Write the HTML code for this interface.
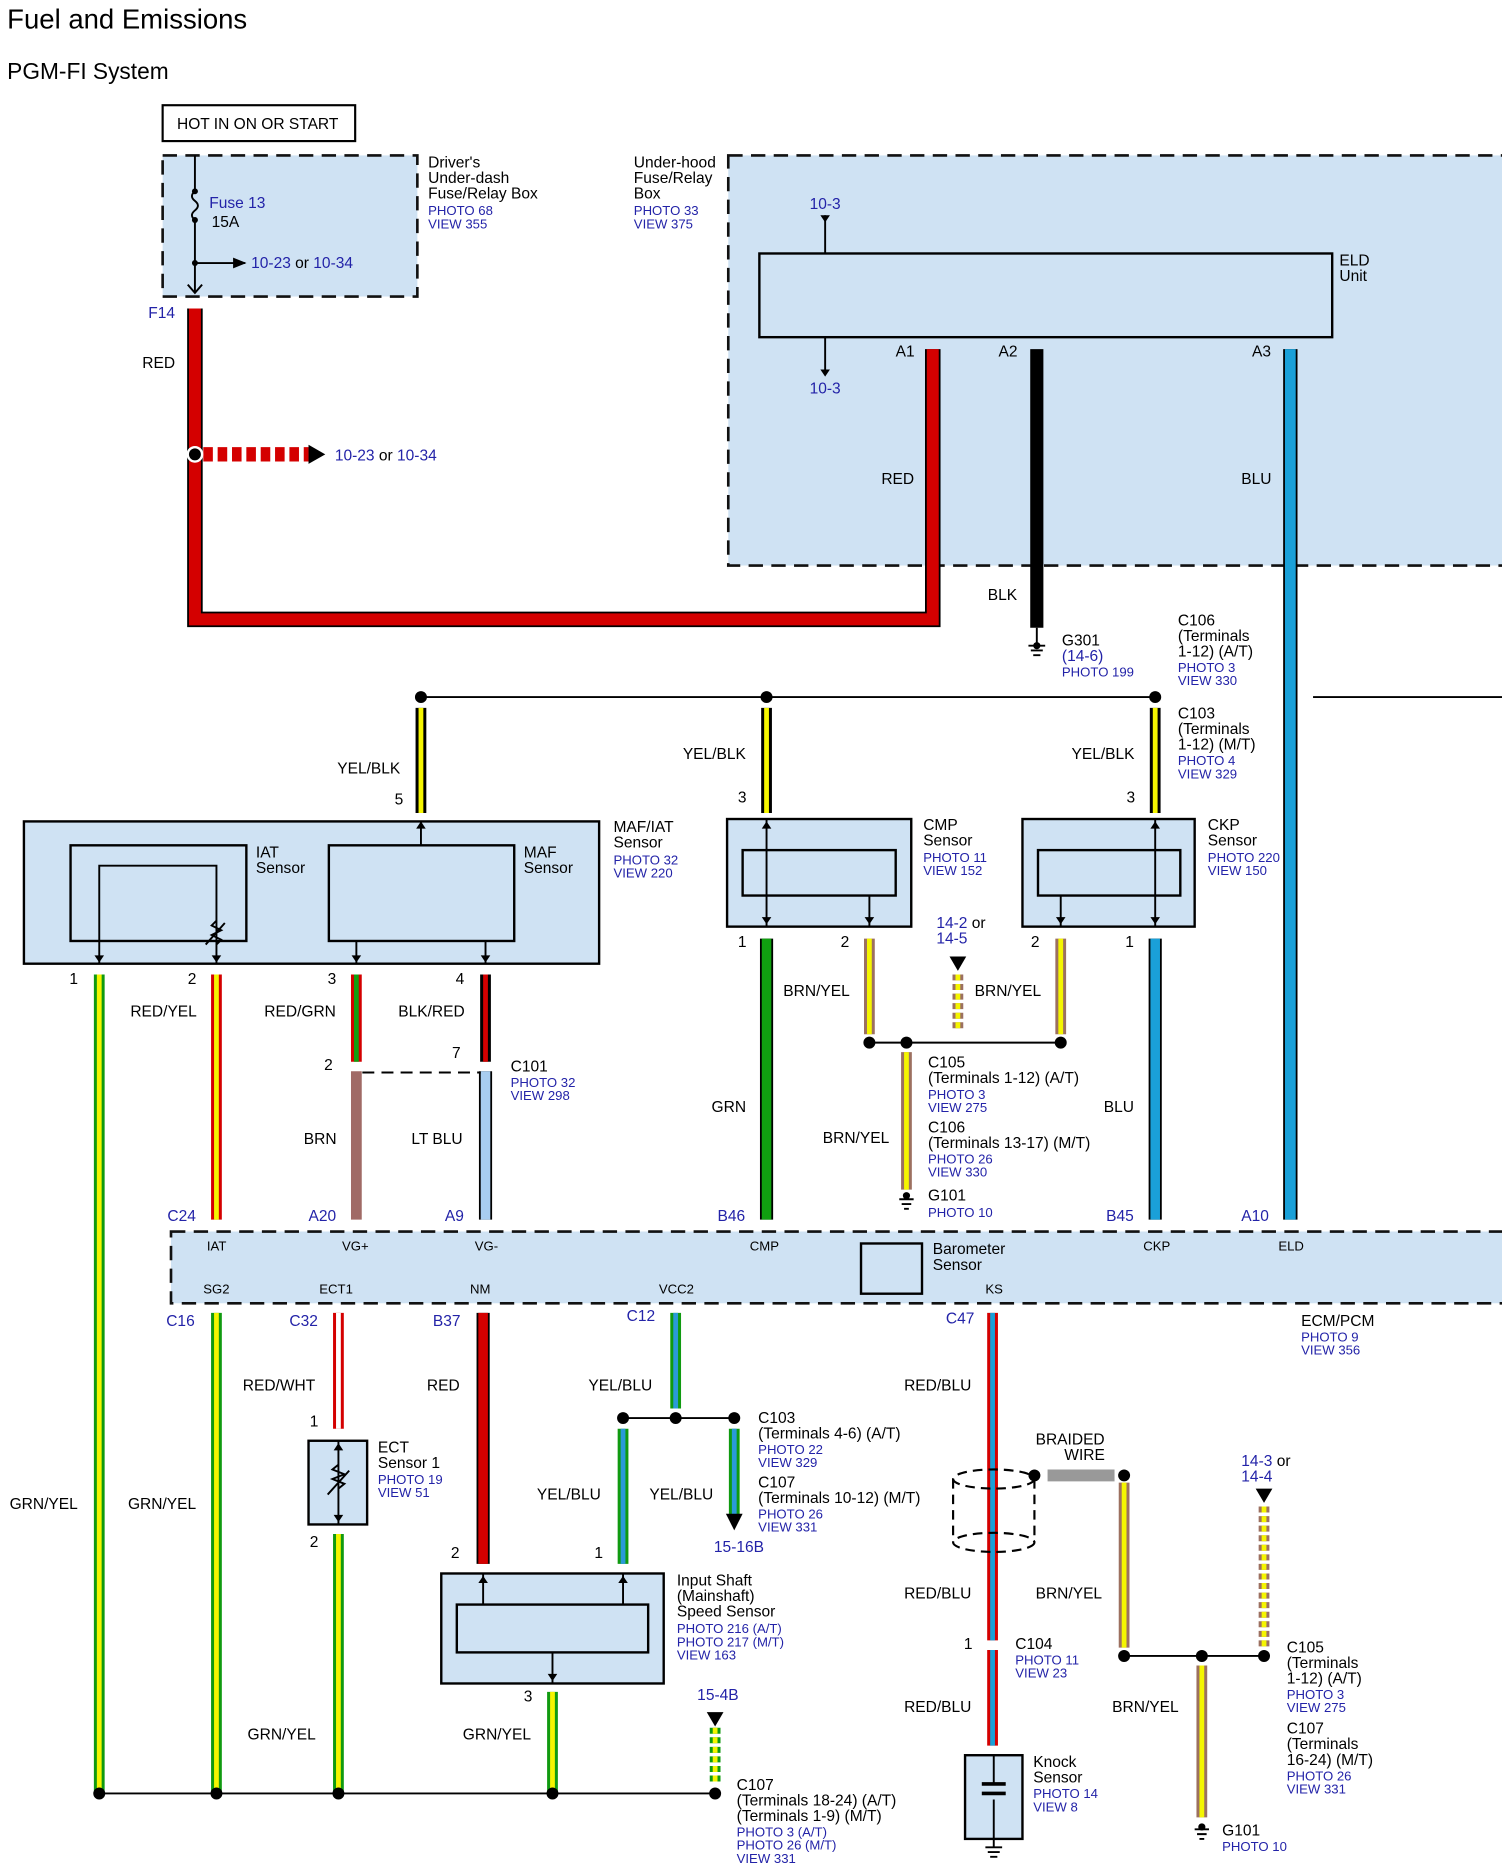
<!DOCTYPE html>
<html><head><meta charset="utf-8"><style>
html,body{margin:0;padding:0;background:#fff}
svg{display:block}
text{font-family:"Liberation Sans",Arial,sans-serif;font-size:13px;fill:#000}
.b{fill:#2323a8;font-size:11px}
.bl{fill:#2323a8;font-size:13px}
.s{font-size:11px}
.box{fill:#cfe2f3;stroke:#000;stroke-width:2}
.dbox{fill:#cfe2f3;stroke:#111;stroke-width:2.2;stroke-dasharray:12,7}
.th{stroke:#000;stroke-width:1.6;fill:none}
</style></head><body>
<svg width="1502" height="1870" viewBox="0 0 1256 1564" preserveAspectRatio="none" xmlns="http://www.w3.org/2000/svg">
<defs>
<marker id="ar" viewBox="0 0 10 10" refX="9" refY="5" markerWidth="7" markerHeight="7" orient="auto"><path d="M0 1L10 5L0 9z" fill="#000"/></marker>
</defs>
<text x="6" y="24" style="font-size:23px">Fuel and Emissions</text>
<text x="6" y="66" style="font-size:19px">PGM-FI System</text>

<rect x="136" y="88" width="161" height="30" fill="#fff" stroke="#000" stroke-width="1.8"/>
<text x="148" y="108">HOT IN ON OR START</text>
<rect class="dbox" x="136" y="130" width="213" height="118"/>
<path class="th" d="M163 130V160"/>
<path class="th" d="M163 160q-5 4 0 8q5 4 0 8q-5 4 0 8"/>
<path class="th" d="M163 184V245"/>
<circle cx="163" cy="160" r="2.5"/><circle cx="163" cy="184" r="2.5"/><circle cx="163" cy="220" r="2.5"/>
<path class="th" d="M163 220H205" marker-end="url(#ar)"/>
<path class="th" d="M157 238l6 7l6-7"/>
<text x="175" y="174" class="bl">Fuse 13</text><text x="177" y="190">15A</text>
<text x="210" y="224" class="bl">10-23 <tspan fill="#000">or</tspan> 10-34</text>
<text x="358" y="140">Driver's</text><text x="358" y="153">Under-dash</text><text x="358" y="166">Fuse/Relay Box</text>
<text x="358" y="180" class="b">PHOTO 68</text><text x="358" y="191" class="b">VIEW 355</text>
<text x="124" y="266" class="bl">F14</text>

<rect class="dbox" x="609" y="130" width="660" height="343"/>
<text x="530" y="140">Under-hood</text><text x="530" y="153">Fuse/Relay</text><text x="530" y="166">Box</text>
<text x="530" y="180" class="b">PHOTO 33</text><text x="530" y="191" class="b">VIEW 375</text>
<text x="677" y="175" class="bl">10-3</text>
<path class="th" d="M690 180V212"/><path d="M686 180h8l-4 6z"/>
<path class="th" d="M690 282V312"/><path d="M686 309h8l-4 6z"/>
<text x="677" y="329" class="bl">10-3</text>
<rect class="box" x="635" y="212" width="479" height="70"/>
<text x="1120" y="222">ELD</text><text x="1120" y="235">Unit</text>
<text x="749" y="298">A1</text><text x="835" y="298">A2</text><text x="1047" y="298">A3</text>
<text x="737" y="405">RED</text><text x="1038" y="405">BLU</text><text x="826" y="502">BLK</text>
<text x="119" y="308">RED</text>

<path d="M163 258V518H780V292" fill="none" stroke="#000" stroke-width="13"/>
<path d="M163 258V518H780V292" fill="none" stroke="#d40000" stroke-width="10"/>
<path d="M867 292V525" stroke="#000" stroke-width="11"/>
<path d="M1079 292V1020" stroke="#000" stroke-width="12"/>
<path d="M1079 292V1020" stroke="#1aa0d8" stroke-width="9"/>
<path d="M170 380H258" stroke="#d40000" stroke-width="12" stroke-dasharray="8,4"/>
<path d="M258 372v16l14-8z"/>
<circle cx="163" cy="380" r="6" fill="#000" stroke="#fff" stroke-width="2"/>
<text x="280" y="385" class="bl">10-23 <tspan fill="#000">or</tspan> 10-34</text>
<path class="th" d="M867 525V540M860 540h14M862 544h10M864 548h6"/>
<circle cx="867" cy="540" r="3"/>
<text x="888" y="540">G301</text><text x="888" y="553" class="bl">(14-6)</text><text x="888" y="566" class="b">PHOTO 199</text>
<text x="985" y="523">C106</text><text x="985" y="536">(Terminals</text><text x="985" y="549">1-12) (A/T)</text>
<text x="985" y="562" class="b">PHOTO 3</text><text x="985" y="573" class="b">VIEW 330</text>

<path class="th" d="M352 583H966M1098 583H1256"/>
<circle cx="352" cy="583" r="5"/><circle cx="641" cy="583" r="5"/><circle cx="966" cy="583" r="5"/>
<g stroke-width="9"><path d="M352 592V680M641 592V680M966 592V680" stroke="#000"/></g>
<g stroke-width="4"><path d="M352 592V680M641 592V680M966 592V680" stroke="#f5f500"/></g>
<text x="282" y="647">YEL/BLK</text><text x="571" y="635">YEL/BLK</text><text x="896" y="635">YEL/BLK</text>
<text x="330" y="673">5</text><text x="617" y="671">3</text><text x="942" y="671">3</text>
<text x="985" y="601">C103</text><text x="985" y="614">(Terminals</text><text x="985" y="627">1-12) (M/T)</text>
<text x="985" y="640" class="b">PHOTO 4</text><text x="985" y="651" class="b">VIEW 329</text>

<rect class="box" x="20" y="687" width="481" height="119"/>
<rect class="box" x="59" y="707" width="147" height="80"/>
<rect class="box" x="275" y="707" width="155" height="80"/>
<path class="th" d="M83 806V724H181V806M181 770l-4 4 8 4-8 4 8 4-4 4M172 790l16-18"/>
<path class="th" d="M352 687V707"/><path d="M348 693h8l-4-6z"/>
<path class="th" d="M298 787V806M406 787V806"/>
<path d="M79 799h8l-4 6zM177 799h8l-4 6zM294 799h8l-4 6zM402 799h8l-4 6z"/>
<text x="214" y="717">IAT</text><text x="214" y="730">Sensor</text>
<text x="438" y="717">MAF</text><text x="438" y="730">Sensor</text>
<text x="513" y="696">MAF/IAT</text><text x="513" y="709">Sensor</text>
<text x="513" y="723" class="b">PHOTO 32</text><text x="513" y="734" class="b">VIEW 220</text>
<text x="58" y="823">1</text><text x="157" y="823">2</text><text x="274" y="823">3</text><text x="381" y="823">4</text>

<rect class="box" x="608" y="685" width="154" height="90"/><rect class="box" x="621" y="711" width="128" height="38"/>
<rect class="box" x="855" y="685" width="144" height="90"/><rect class="box" x="868" y="711" width="119" height="38"/>
<path class="th" d="M641 685V775M727 749V775M887 749V775M966 685V775"/>
<path d="M637 693h8l-4-6zM962 693h8l-4-6zM637 767h8l-4 6zM723 767h8l-4 6zM883 767h8l-4 6zM962 767h8l-4 6z"/>
<text x="772" y="694">CMP</text><text x="772" y="707">Sensor</text><text x="772" y="721" class="b">PHOTO 11</text><text x="772" y="732" class="b">VIEW 152</text>
<text x="1010" y="694">CKP</text><text x="1010" y="707">Sensor</text><text x="1010" y="721" class="b">PHOTO 220</text><text x="1010" y="732" class="b">VIEW 150</text>
<text x="617" y="792">1</text><text x="703" y="792">2</text><text x="862" y="792">2</text><text x="941" y="792">1</text>
<text x="783" y="776" class="bl">14-2 <tspan fill="#000">or</tspan></text><text x="783" y="789" class="bl">14-5</text>
<path d="M794 800h14l-7 12z"/>

<g stroke-width="9">
<path d="M83 815V1500" stroke="#109a10"/>
<path d="M181 815V1020" stroke="#d40000"/>
<path d="M298 815V888" stroke="#d40000"/>
<path d="M406 815V888" stroke="#000"/>
<path d="M298 896V1020" stroke="#a06a66"/>
<path d="M727 785V865M887 785V865M758 880V995" stroke="#9c7060"/>
<path d="M801 815V862" stroke="#9c7060" stroke-dasharray="5,3"/>
</g>
<g stroke-width="11"><path d="M641 785V1020M966 785V1020M406 896V1020" stroke="#000"/></g>
<g stroke-width="8"><path d="M641 785V1020" stroke="#10a010"/><path d="M966 785V1020" stroke="#1aa0d8"/><path d="M406 896V1020" stroke="#a8cdf0"/></g>
<g stroke-width="4">
<path d="M83 815V1500" stroke="#f5f500"/>
<path d="M181 815V1020" stroke="#f5f500"/>
<path d="M298 815V888" stroke="#10a010"/>
<path d="M406 815V888" stroke="#d40000"/>
<path d="M727 785V865M887 785V865M758 880V995" stroke="#f5f500"/>
<path d="M801 815V862" stroke="#f5f500" stroke-dasharray="5,3"/>
</g>
<path class="th" d="M303 897H402" stroke-dasharray="10,6"/>
<path class="th" d="M727 872H887"/>
<circle cx="727" cy="872" r="5"/><circle cx="758" cy="872" r="5"/><circle cx="887" cy="872" r="5"/>
<path class="th" d="M752 1003h12M754 1007h8M756 1011h4"/><circle cx="758" cy="1000" r="3"/>
<text x="109" y="850">RED/YEL</text><text x="221" y="850">RED/GRN</text><text x="333" y="850">BLK/RED</text>
<text x="271" y="895">2</text><text x="378" y="885">7</text>
<text x="427" y="896">C101</text><text x="427" y="909" class="b">PHOTO 32</text><text x="427" y="920" class="b">VIEW 298</text>
<text x="254" y="957">BRN</text><text x="344" y="957">LT BLU</text>
<text x="655" y="833">BRN/YEL</text><text x="815" y="833">BRN/YEL</text>
<text x="595" y="930">GRN</text><text x="923" y="930">BLU</text><text x="688" y="956">BRN/YEL</text>
<text x="776" y="893">C105</text><text x="776" y="906">(Terminals 1-12) (A/T)</text>
<text x="776" y="919" class="b">PHOTO 3</text><text x="776" y="930" class="b">VIEW 275</text>
<text x="776" y="947">C106</text><text x="776" y="960">(Terminals 13-17) (M/T)</text>
<text x="776" y="973" class="b">PHOTO 26</text><text x="776" y="984" class="b">VIEW 330</text>
<text x="776" y="1004">G101</text><text x="776" y="1018" class="b">PHOTO 10</text>
<text x="140" y="1021" class="bl">C24</text><text x="258" y="1021" class="bl">A20</text><text x="372" y="1021" class="bl">A9</text>
<text x="600" y="1021" class="bl">B46</text><text x="925" y="1021" class="bl">B45</text><text x="1038" y="1021" class="bl">A10</text>

<rect class="dbox" x="143" y="1030" width="1130" height="60"/>
<rect x="720" y="1040" width="51" height="42" fill="none" stroke="#000" stroke-width="2"/>
<text x="780" y="1049">Barometer</text><text x="780" y="1062">Sensor</text>
<text x="173" y="1046" class="s">IAT</text><text x="286" y="1046" class="s">VG+</text><text x="397" y="1046" class="s">VG-</text>
<text x="627" y="1046" class="s">CMP</text><text x="956" y="1046" class="s">CKP</text><text x="1069" y="1046" class="s">ELD</text>
<text x="170" y="1082" class="s">SG2</text><text x="267" y="1082" class="s">ECT1</text><text x="393" y="1082" class="s">NM</text>
<text x="551" y="1082" class="s">VCC2</text><text x="824" y="1082" class="s">KS</text>
<text x="1088" y="1109">ECM/PCM</text><text x="1088" y="1122" class="b">PHOTO 9</text><text x="1088" y="1133" class="b">VIEW 356</text>
<text x="139" y="1109" class="bl">C16</text><text x="242" y="1109" class="bl">C32</text><text x="362" y="1109" class="bl">B37</text>
<text x="524" y="1105" class="bl">C12</text><text x="791" y="1107" class="bl">C47</text>

<g stroke-width="9">
<path d="M181 1098V1500M283 1283V1500M462 1415V1500" stroke="#109a10"/>
<path d="M598 1445V1492" stroke="#109a10" stroke-dasharray="5,3"/>
<path d="M283 1098V1195M830 1098V1372M830 1380V1460" stroke="#d40000"/>
<path d="M565 1098V1178M521 1195V1308M614 1195V1268" stroke="#109a10"/>
<path d="M940 1240V1378M1005 1393V1520" stroke="#9c7060"/>
<path d="M1057 1260V1378" stroke="#9c7060" stroke-dasharray="5,3"/>
</g>
<g stroke-width="11"><path d="M404 1098V1308" stroke="#000"/></g>
<path d="M404 1098V1308" stroke="#d40000" stroke-width="8"/>
<g stroke-width="4">
<path d="M181 1098V1500M283 1283V1500M462 1415V1500" stroke="#f5f500"/>
<path d="M598 1445V1492" stroke="#f5f500" stroke-dasharray="5,3"/>
<path d="M283 1098V1195" stroke="#fff"/>
<path d="M830 1098V1372M830 1380V1460" stroke="#1aa0d8"/>
<path d="M565 1098V1178M521 1195V1308M614 1195V1268" stroke="#2a9ad8"/>
<path d="M940 1240V1378M1005 1393V1520" stroke="#f5f500"/>
<path d="M1057 1260V1378" stroke="#f5f500" stroke-dasharray="5,3"/>
</g>
<path d="M607 1266h14l-7 14z"/>
<path d="M591 1432h14l-7 12z"/><path d="M1050 1245h14l-7 12z"/>
<path class="th" d="M521 1186H614"/><circle cx="521" cy="1186" r="5"/><circle cx="565" cy="1186" r="5"/><circle cx="614" cy="1186" r="5"/>
<path class="th" d="M83 1500H598"/>
<circle cx="83" cy="1500" r="5"/><circle cx="181" cy="1500" r="5"/><circle cx="283" cy="1500" r="5"/><circle cx="462" cy="1500" r="5"/><circle cx="598" cy="1500" r="5"/>
<rect class="box" x="258" y="1205" width="49" height="70"/>
<path class="th" d="M283 1205V1275M283 1225l-5 4 10 4-10 4 10 4-5 4M274 1250l18-20"/>
<path d="M279 1213h8l-4-6zM279 1267h8l-4 6z"/>
<text x="316" y="1215">ECT</text><text x="316" y="1228">Sensor 1</text><text x="316" y="1241" class="b">PHOTO 19</text><text x="316" y="1252" class="b">VIEW 51</text>
<text x="259" y="1193">1</text><text x="259" y="1294">2</text>
<rect class="box" x="369" y="1316" width="186" height="92"/><rect class="box" x="382" y="1342" width="160" height="40"/>
<path class="th" d="M404 1316V1342M521 1316V1342M462 1382V1408"/>
<path d="M400 1324h8l-4-6zM517 1324h8l-4-6zM458 1400h8l-4 6z"/>
<text x="566" y="1326">Input Shaft</text><text x="566" y="1339">(Mainshaft)</text><text x="566" y="1352">Speed Sensor</text>
<text x="566" y="1366" class="b">PHOTO 216 (A/T)</text><text x="566" y="1377" class="b">PHOTO 217 (M/T)</text><text x="566" y="1388" class="b">VIEW 163</text>
<text x="377" y="1303">2</text><text x="497" y="1303">1</text><text x="438" y="1423">3</text>
<text x="583" y="1422" class="bl">15-4B</text>
<text x="597" y="1298" class="bl">15-16B</text>
<text x="634" y="1190">C103</text><text x="634" y="1203">(Terminals 4-6) (A/T)</text><text x="634" y="1216" class="b">PHOTO 22</text><text x="634" y="1227" class="b">VIEW 329</text>
<text x="634" y="1244">C107</text><text x="634" y="1257">(Terminals 10-12) (M/T)</text><text x="634" y="1270" class="b">PHOTO 26</text><text x="634" y="1281" class="b">VIEW 331</text>
<text x="616" y="1497">C107</text><text x="616" y="1510">(Terminals 18-24) (A/T)</text><text x="616" y="1523">(Terminals 1-9) (M/T)</text>
<text x="616" y="1536" class="b">PHOTO 3 (A/T)</text><text x="616" y="1547" class="b">PHOTO 26 (M/T)</text><text x="616" y="1558" class="b">VIEW 331</text>
<text x="8" y="1262">GRN/YEL</text><text x="107" y="1262">GRN/YEL</text><text x="203" y="1163">RED/WHT</text><text x="357" y="1163">RED</text>
<text x="492" y="1163">YEL/BLU</text><text x="449" y="1254">YEL/BLU</text><text x="543" y="1254">YEL/BLU</text>
<text x="207" y="1455">GRN/YEL</text><text x="387" y="1455">GRN/YEL</text>
<path d="M876 1234H932" stroke="#999" stroke-width="10"/>
<circle cx="865" cy="1234" r="5"/><circle cx="940" cy="1234" r="5"/>
<g fill="none" stroke="#000" stroke-width="1.8" stroke-dasharray="8,5">
<ellipse cx="831" cy="1237" rx="34" ry="8"/><ellipse cx="831" cy="1290" rx="34" ry="8"/>
<path d="M797 1237V1290M865 1237V1290"/></g>
<text x="866" y="1208">BRAIDED</text><text x="890" y="1221">WIRE</text>
<text x="1038" y="1226" class="bl">14-3 <tspan fill="#000">or</tspan></text><text x="1038" y="1239" class="bl">14-4</text>
<text x="756" y="1163">RED/BLU</text><text x="756" y="1337">RED/BLU</text><text x="866" y="1337">BRN/YEL</text><text x="756" y="1432">RED/BLU</text><text x="930" y="1432">BRN/YEL</text>
<text x="806" y="1379">1</text><text x="849" y="1379">C104</text><text x="849" y="1392" class="b">PHOTO 11</text><text x="849" y="1403" class="b">VIEW 23</text>
<path class="th" d="M940 1385H1057"/><circle cx="940" cy="1385" r="5"/><circle cx="1005" cy="1385" r="5"/><circle cx="1057" cy="1385" r="5"/>
<rect class="box" x="807" y="1468" width="48" height="70"/>
<path class="th" d="M831 1468V1493M831 1505V1538"/><path d="M821 1492h20M821 1500h20" stroke="#000" stroke-width="3"/>
<path class="th" d="M824 1545h14M826 1549h10M828 1553h6M831 1538V1545"/>
<text x="864" y="1478">Knock</text><text x="864" y="1491">Sensor</text><text x="864" y="1504" class="b">PHOTO 14</text><text x="864" y="1515" class="b">VIEW 8</text>
<path class="th" d="M999 1530h12M1001 1534h8M1003 1538h4"/><circle cx="1005" cy="1528" r="3"/>
<text x="1022" y="1535">G101</text><text x="1022" y="1548" class="b">PHOTO 10</text>
<text x="1076" y="1382">C105</text><text x="1076" y="1395">(Terminals</text><text x="1076" y="1408">1-12) (A/T)</text><text x="1076" y="1421" class="b">PHOTO 3</text><text x="1076" y="1432" class="b">VIEW 275</text>
<text x="1076" y="1450">C107</text><text x="1076" y="1463">(Terminals</text><text x="1076" y="1476">16-24) (M/T)</text><text x="1076" y="1489" class="b">PHOTO 26</text><text x="1076" y="1500" class="b">VIEW 331</text>
</svg>
</body></html>
